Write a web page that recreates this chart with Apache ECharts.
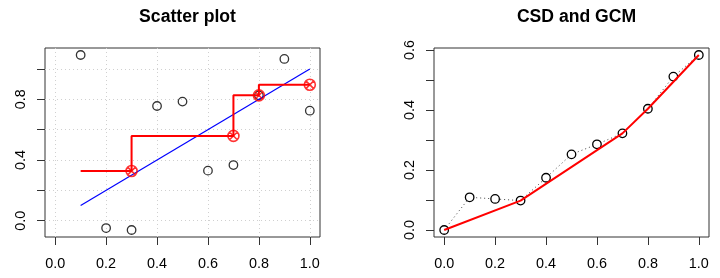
<!DOCTYPE html>
<html>
<head>
<meta charset="utf-8">
<script src="https://cdn.jsdelivr.net/npm/echarts@6/dist/echarts.min.js"></script>
<style>html,body{margin:0;padding:0;background:#fff}#c{width:720px;height:278px}</style>
</head>
<body>
<div id="c"></div>
<script>
// ---- data ----
const scatterX = [0.1, 0.2, 0.3, 0.4, 0.5, 0.6, 0.7, 0.8, 0.9, 1.0];
const scatterY = [1.092, -0.048, -0.061, 0.756, 0.785, 0.330, 0.367, 0.826, 1.066, 0.725];
const isoFitY  = [0.328, 0.328, 0.328, 0.559, 0.559, 0.559, 0.559, 0.826, 0.896, 0.896];
const knotX    = [0.3, 0.7, 0.8, 1.0];
const knotY    = [0.328, 0.559, 0.826, 0.896];
const diagX    = [0.1, 1.0];
const diagY    = [0.1, 1.0];

const csdX = [0, 0.1, 0.2, 0.3, 0.4, 0.5, 0.6, 0.7, 0.8, 0.9, 1.0];
const csdY = [0, 0.109, 0.1035, 0.098, 0.174, 0.252, 0.2855, 0.322, 0.404, 0.511, 0.583];
const gcmX = [0, 0.3, 0.7, 0.8, 1.0];
const gcmY = [0, 0.098, 0.322, 0.404, 0.583];

const xTicks = [0, 0.2, 0.4, 0.6, 0.8, 1.0];
const leftYTicks = [0, 0.2, 0.4, 0.6, 0.8, 1.0];
const leftYLabels = [0, 0.4, 0.8];
const rightYTicks = [0, 0.1, 0.2, 0.3, 0.4, 0.5, 0.6];
const rightYLabels = [0, 0.2, 0.4, 0.6];
const titles = ['Scatter plot', 'CSD and GCM'];

const zip = (xs, ys) => xs.map((x, i) => [x, ys[i]]);
const FONT = 'Liberation Sans, Arial, sans-serif';
const fmt = v => v.toFixed(1);

function xAxis(gi) {
  return {
    type: 'value', gridIndex: gi, min: -0.04, max: 1.04, position: 'bottom',
    axisLine: {show: false, onZero: false},
    axisTick: {show: true, inside: false, customValues: xTicks, length: 8, lineStyle: {color: '#333', width: 1}},
    axisLabel: {customValues: xTicks, formatter: fmt, margin: 20, fontSize: 14.4, color: '#000', fontFamily: FONT},
    splitLine: {show: gi === 0, lineStyle: {color: '#d0d0d0', type: [1, 3], width: 1}}
  };
}
function yAxis(gi, min, max, ticks, labels) {
  return {
    type: 'value', gridIndex: gi, min: min, max: max, position: 'left',
    axisLine: {show: false, onZero: false},
    axisTick: {show: true, inside: false, customValues: ticks, length: 8, lineStyle: {color: '#333', width: 1}},
    axisLabel: {customValues: labels, formatter: fmt, rotate: 90, margin: 17, fontSize: 14.4, color: '#000', fontFamily: FONT},
    splitLine: {show: gi === 0, lineStyle: {color: '#d0d0d0', type: [1, 3], width: 1}}
  };
}

const crossCircle = 'path://M-1,0A1,1,0,1,0,1,0A1,1,0,1,0,-1,0ZM-0.707,-0.707L0.707,0.707M0.707,-0.707L-0.707,0.707';

const chart = echarts.init(document.getElementById('c'), null, {renderer: 'canvas'});
chart.setOption({
  animation: false,
  backgroundColor: '#fff',
  title: [
    {text: titles[0], left: 182.5, top: 3, textAlign: 'center', textStyle: {fontSize: 17.6, fontWeight: 'bold', color: '#000', fontFamily: FONT}},
    {text: titles[1], left: 571.5, top: 3, textAlign: 'center', textStyle: {fontSize: 17.6, fontWeight: 'bold', color: '#000', fontFamily: FONT}}
  ],
  grid: [
    {left: 45, top: 48, width: 275, height: 189, show: true, borderColor: '#333', borderWidth: 1, backgroundColor: 'transparent'},
    {left: 434, top: 48, width: 275, height: 189, show: true, borderColor: '#333', borderWidth: 1, backgroundColor: 'transparent'}
  ],
  xAxis: [xAxis(0), xAxis(1)],
  yAxis: [
    yAxis(0, -0.1071, 1.1381, leftYTicks, leftYLabels),
    yAxis(1, -0.0233, 0.6063, rightYTicks, rightYLabels)
  ],
  series: [
    {type: 'scatter', xAxisIndex: 0, yAxisIndex: 0, data: zip(scatterX, scatterY), symbol: 'circle', symbolSize: 8.5,
     itemStyle: {color: 'rgba(0,0,0,0)', borderColor: '#000', borderWidth: 1.3}, z: 3},
    {type: 'line', xAxisIndex: 0, yAxisIndex: 0, data: zip(diagX, diagY), showSymbol: false, symbol: 'none',
     lineStyle: {color: '#0000ff', width: 1.2}, z: 4},
    {type: 'line', xAxisIndex: 0, yAxisIndex: 0, data: zip(scatterX, isoFitY), step: 'start', showSymbol: false, symbol: 'none',
     lineStyle: {color: '#ff0000', width: 2}, z: 5},
    {type: 'scatter', xAxisIndex: 0, yAxisIndex: 0, data: zip(knotX, knotY), symbol: crossCircle, symbolSize: 11,
     itemStyle: {color: 'rgba(0,0,0,0)', borderColor: '#ff0000', borderWidth: 1.6}, z: 6},

    {type: 'line', xAxisIndex: 1, yAxisIndex: 1, data: zip(csdX, csdY), symbol: 'circle', symbolSize: 8.5, showSymbol: true,
     lineStyle: {color: '#444', width: 1, type: [1, 3]},
     itemStyle: {color: '#fff', borderColor: '#000', borderWidth: 1.3}, z: 3},
    {type: 'line', xAxisIndex: 1, yAxisIndex: 1, data: zip(gcmX, gcmY), showSymbol: false, symbol: 'none',
     lineStyle: {color: '#ff0000', width: 2}, z: 5}
  ]
});
</script>
</body>
</html>
